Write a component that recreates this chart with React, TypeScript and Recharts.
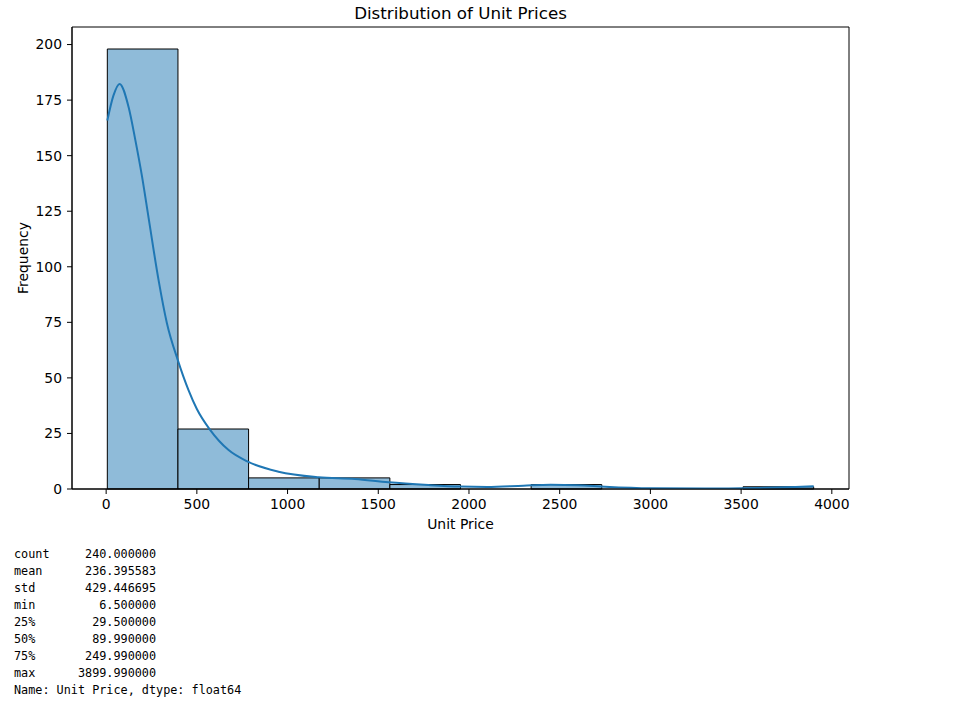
import React from "react";
import {
  ComposedChart,
  Line,
  XAxis,
  YAxis,
  ReferenceArea,
} from "recharts";

// Histogram bins (10 bins from min to max)
const binEdges = [6.5, 395.849, 785.198, 1174.547, 1563.896, 1953.245, 2342.594, 2731.943, 3121.292, 3510.641, 3899.99];
const binCounts = [198, 27, 5, 5, 2, 0, 2, 0, 0, 1];

// KDE curve (scaled to counts)
const kdeX = [6.5, 40, 74, 124, 161, 197, 234, 289, 335, 395, 454, 500, 574, 675, 781, 950, 1170, 1372, 1556, 1776, 1950, 2100, 2300, 2450, 2600, 2750, 3000, 3300, 3600, 3800, 3899.99];
const kdeY = [165.8, 177, 182.3, 171.8, 157, 141, 122, 94, 74.6, 58, 44.5, 36, 26.5, 17.5, 12.3, 7.8, 5.3, 4.5, 3.0, 1.8, 1.1, 0.9, 1.5, 1.9, 1.7, 1.0, 0.3, 0.2, 0.5, 0.9, 1.2];

const xTicks = [0, 500, 1000, 1500, 2000, 2500, 3000, 3500, 4000];
const yTicks = [0, 25, 50, 75, 100, 125, 150, 175, 200];

const statLabels = ["count", "mean", "std", "min", "25%", "50%", "75%", "max"];
const statValues = ["240.000000", "236.395583", "429.446695", "6.500000", "29.500000", "89.990000", "249.990000", "3899.990000"];
const statFooter = "Name: Unit Price, dtype: float64";

const xDomain: [number, number] = [-188.2, 4094.7];
const yDomain: [number, number] = [0, 207.9];

const chartData = kdeX.map((x, i) => ({ x, y: kdeY[i] }));

const FONT = "'DejaVu Sans', sans-serif";
const tickStyle = { fontSize: 13.9, fill: "#000", fontFamily: FONT };

export default function App() {
  const statText =
    statLabels.map((l, i) => l.padEnd(5, " ") + statValues[i].padStart(15, " ")).join("\n") +
    "\n" +
    statFooter;
  return (
    <div style={{ position: "absolute", left: 0, top: 0, width: 953, height: 710, background: "#fff" }}>
      <ComposedChart
        width={953}
        height={710}
        data={chartData}
        margin={{ top: 27, right: 104, bottom: 181, left: 10 }}
      >
        <XAxis
          dataKey="x"
          type="number"
          domain={xDomain}
          allowDataOverflow
          ticks={xTicks}
          tick={tickStyle}
          tickSize={5}
          tickMargin={5}
          height={40}
          stroke="#000"
          interval={0}
        />
        <YAxis
          type="number"
          domain={yDomain}
          allowDataOverflow
          ticks={yTicks}
          tick={tickStyle}
          tickSize={5}
          tickMargin={5}
          width={62}
          stroke="#000"
          interval={0}
        />
        {binCounts.map((c, i) => (
          <ReferenceArea
            key={i}
            x1={binEdges[i]}
            x2={binEdges[i + 1]}
            y1={0}
            y2={c}
            fill="#8fbbd9"
            fillOpacity={1}
            stroke="#000"
            strokeWidth={1}
          />
        ))}
        <ReferenceArea
          x1={xDomain[0]}
          x2={xDomain[1]}
          y1={yDomain[0]}
          y2={yDomain[1]}
          fill="none"
          stroke="#000"
          strokeWidth={1}
          ifOverflow="visible"
        />
        <Line
          dataKey="y"
          type="monotone"
          stroke="#1f77b4"
          strokeWidth={2}
          dot={false}
          isAnimationActive={false}
        />
      </ComposedChart>
      <div
        style={{
          position: "absolute",
          left: 72,
          width: 777,
          top: 3,
          textAlign: "center",
          fontFamily: FONT,
          fontSize: 16.7,
          lineHeight: "20px",
          color: "#000",
        }}
      >
        Distribution of Unit Prices
      </div>
      <div
        style={{
          position: "absolute",
          left: 72,
          width: 777,
          top: 514,
          textAlign: "center",
          fontFamily: FONT,
          fontSize: 13.9,
          lineHeight: "20px",
          color: "#000",
        }}
      >
        Unit Price
      </div>
      <div
        style={{
          position: "absolute",
          left: 23 - 60,
          top: 258 - 10,
          width: 120,
          height: 20,
          textAlign: "center",
          fontFamily: FONT,
          fontSize: 13.9,
          lineHeight: "20px",
          color: "#000",
          transform: "rotate(-90deg)",
        }}
      >
        Frequency
      </div>
      <pre
        style={{
          position: "absolute",
          left: 14,
          top: 546,
          margin: 0,
          fontFamily: "'DejaVu Sans Mono', monospace",
          fontSize: 11.8,
          lineHeight: "17px",
          color: "#000",
        }}
      >
        {statText}
      </pre>
    </div>
  );
}
